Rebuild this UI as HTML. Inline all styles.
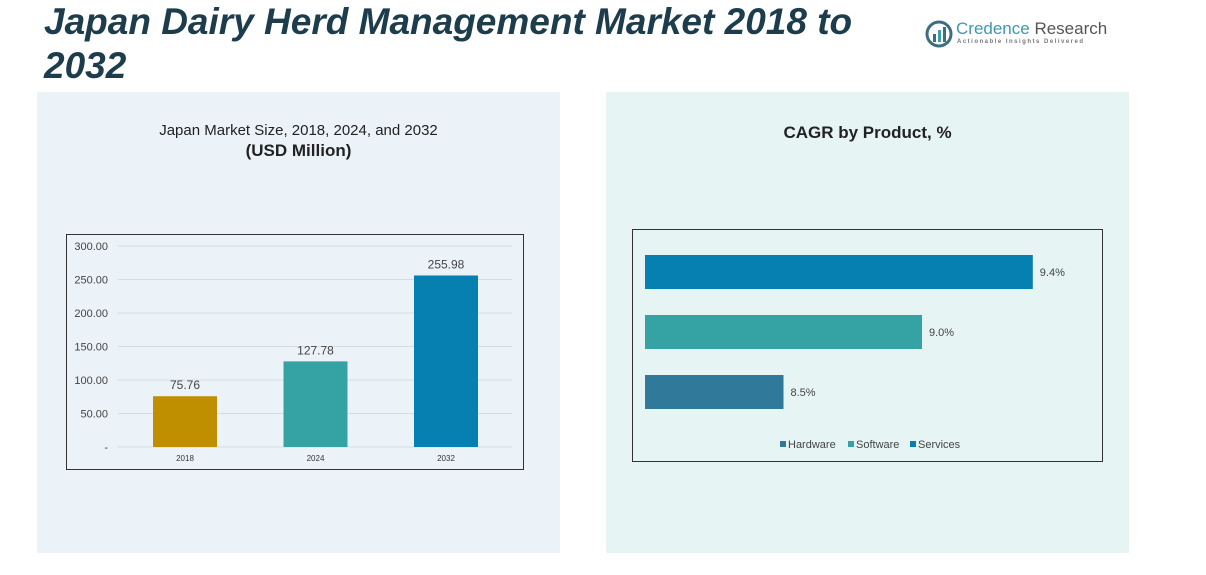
<!DOCTYPE html>
<html><head><meta charset="utf-8"><style>
body{margin:0;width:1206px;height:575px;background:#fff;position:relative;overflow:hidden;font-family:"Liberation Sans",sans-serif}
.abs{position:absolute}
</style></head><body>
<div class="abs" style="left:37px;top:92px;width:523px;height:461px;background:#ebf3f8"></div>
<div class="abs" style="left:606px;top:92px;width:523px;height:461px;background:#e6f4f4"></div>
<div class="abs" style="left:44px;top:0px;width:850px;font-size:37px;font-weight:bold;font-style:italic;color:#1d3d4c;line-height:44px">Japan Dairy Herd Management Market 2018 to 2032</div>
<div class="abs" style="left:925px;top:18px;width:190px;height:32px;white-space:nowrap">
 <svg width="28" height="28" viewBox="0 0 28 28" style="position:absolute;left:0;top:2px"><circle cx="14" cy="14" r="12" fill="none" stroke="#3c6e80" stroke-width="3"/><rect x="8" y="14" width="3" height="8" fill="#3c6e80"/><rect x="13" y="10" width="3" height="12" fill="#3aa0b0"/><rect x="18" y="7" width="3" height="15" fill="#3c6e80"/></svg>
 <div class="abs" style="left:31px;top:1px;font-size:17px;color:#3c9aab">Credence <span style="color:#555">Research</span></div>
 <div class="abs" style="left:32px;top:21px;font-size:6px;letter-spacing:1.5px;color:#777;font-weight:bold">Actionable Insights Delivered</div>
</div>
<div class="abs" style="left:37px;top:121px;width:523px;text-align:center;font-size:15px;color:#222;line-height:20px">Japan Market Size, 2018, 2024, and 2032<br><b style="font-size:17px">(USD Million)</b></div>
<div class="abs" style="left:606px;top:123px;width:523px;text-align:center;font-size:17px;font-weight:bold;color:#222">CAGR by Product, %</div>
<svg class="abs" style="left:0;top:0" width="1206" height="575" id="svg"></svg>
<script>
const years=["2018","2024","2032"];
const sizes=[75.76,127.78,255.98];
const sizeLabels=["75.76","127.78","255.98"];
const yTicks=[0,50,100,150,200,250,300];
const yTickLabels=["-","50.00","100.00","150.00","200.00","250.00","300.00"];
const products=["Services","Software","Hardware"];
const cagr=[9.4,9.0,8.5];
const cagrLabels=["9.4%","9.0%","8.5%"];
const legendOrder=["Hardware","Software","Services"];
const NS="http://www.w3.org/2000/svg",svg=document.getElementById('svg');
function mk(t,a,txt){const e=document.createElementNS(NS,t);for(const k in a)e.setAttribute(k,a[k]);if(txt!==undefined)e.textContent=txt;svg.appendChild(e);return e;}
let f=mk('rect',{x:66.5,y:234.5,width:457,height:235,fill:'none',stroke:'#333','stroke-width':1});

const y=v=>447-v*201/300;
const xc=i=>185+i*130.5;
yTicks.forEach((t,i)=>{let l=mk('line',{x1:118,x2:512,y1:y(t),y2:y(t),stroke:'#d5dde2'});

let tx=mk('text',{x:108,y:y(t)+4,'text-anchor':'end','font-size':11,fill:'#444'},yTickLabels[i]);
});
const cols=['#bf8f00','#35a3a3','#0580b0'];
years.forEach((yr,i)=>{let b=mk('rect',{x:xc(i)-32,y:y(sizes[i]),width:64,height:447-y(sizes[i]),fill:cols[i]});

let v=mk('text',{x:xc(i),y:y(sizes[i])-7,'text-anchor':'middle','font-size':12,fill:'#444'},sizeLabels[i]);

let c=mk('text',{x:xc(i),y:461,'text-anchor':'middle','font-size':8,fill:'#333'},yr);
});
let f2=mk('rect',{x:632.5,y:229.5,width:470,height:232,fill:'none',stroke:'#333','stroke-width':1});

const xs=v=>645+(v-8.0)*277;
const pc={Services:'#0580b0',Software:'#35a3a3',Hardware:'#31799b'};
products.forEach((p,i)=>{const yt=255+i*60;
let b=mk('rect',{x:645,y:yt,width:xs(cagr[i])-645,height:34,fill:pc[p]});

let t=mk('text',{x:xs(cagr[i])+7,y:yt+21,'font-size':11,fill:'#444'},cagrLabels[i]);
});
let lx=780;legendOrder.forEach(p=>{let r=mk('rect',{x:lx,y:441,width:6,height:6,fill:pc[p]});

let t=mk('text',{x:lx+8,y:448,'font-size':11,fill:'#444'},p);

lx+=p==='Hardware'?68:62;});
</script>
</body></html>
